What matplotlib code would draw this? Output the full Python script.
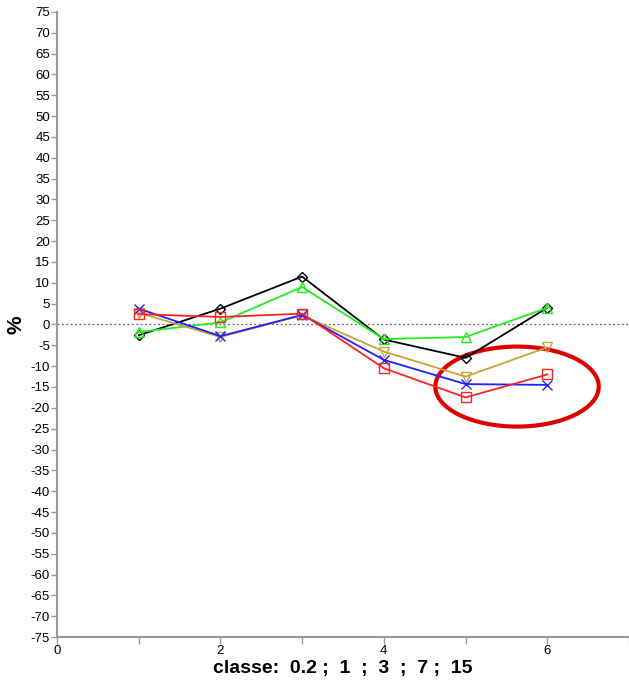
import matplotlib
matplotlib.use("Agg")
import matplotlib.pyplot as plt
from matplotlib.patches import Ellipse
from matplotlib.ticker import MultipleLocator

classes = [1, 2, 3, 4, 5, 6]
black = [-2.6, 3.8, 11.5, -3.6, -8.0, 4.0]
green = [-1.8, 0.5, 9.0, -3.5, -3.0, 4.0]
red = [2.5, 1.8, 2.6, -10.5, -17.5, -12.0]
blue = [3.8, -2.8, 2.3, -8.5, -14.3, -14.5]
gold = [2.8, -3.0, 2.2, -6.5, -12.5, -5.5]

plt.rcParams["font.family"] = ["Liberation Sans", "DejaVu Sans"]
plt.rcParams["axes.unicode_minus"] = False

fig = plt.figure(figsize=(6.29, 6.81), dpi=100)
ax = fig.add_axes([0.0906, 0.0646, 0.9094, 0.9178])

ax.axhline(0, color="#666666", linestyle=(0, (1.5, 2)), linewidth=0.9, zorder=1)

ax.plot(classes, black, color="black", marker="D", markersize=5, markerfacecolor="none", linewidth=1.3)
ax.plot(classes, green, color="#22ee22", marker="^", markersize=7, markerfacecolor="none", linewidth=1.3)
ax.plot(classes, gold, color="#c8a040", marker="v", markersize=7, markerfacecolor="none", linewidth=1.3)
ax.plot(classes, blue, color="#2020ff", marker="x", markersize=7, linewidth=1.3)
ax.plot(classes, red, color="#ff2222", marker="s", markersize=7, markerfacecolor="none", linewidth=1.3)

ax.add_patch(Ellipse((5.63, -14.9), 2.0, 19.2, fill=False, edgecolor="#e00000", linewidth=3))

ax.set_xlim(0, 7)
ax.set_ylim(-75, 75)
ax.xaxis.set_major_locator(MultipleLocator(2))
ax.xaxis.set_minor_locator(MultipleLocator(1))
ax.yaxis.set_major_locator(MultipleLocator(5))

for side in ["top", "right"]:
    ax.spines[side].set_visible(False)
for side in ["left", "bottom"]:
    ax.spines[side].set_color("#999999")
    ax.spines[side].set_linewidth(1.5)

ax.tick_params(axis="y", length=4, width=1, color="#999999", labelsize=9.5, pad=1)
ax.tick_params(axis="x", which="both", length=5, width=1, color="#999999", labelsize=9.5, pad=1)

ax.set_xlabel("classe:  0.2 ;  1  ;  3  ;  7 ;  15", fontsize=14, fontweight="bold", labelpad=2)
ax.set_ylabel("%", fontsize=15, fontweight="bold", labelpad=4)

fig.savefig("out.png", dpi=100)
